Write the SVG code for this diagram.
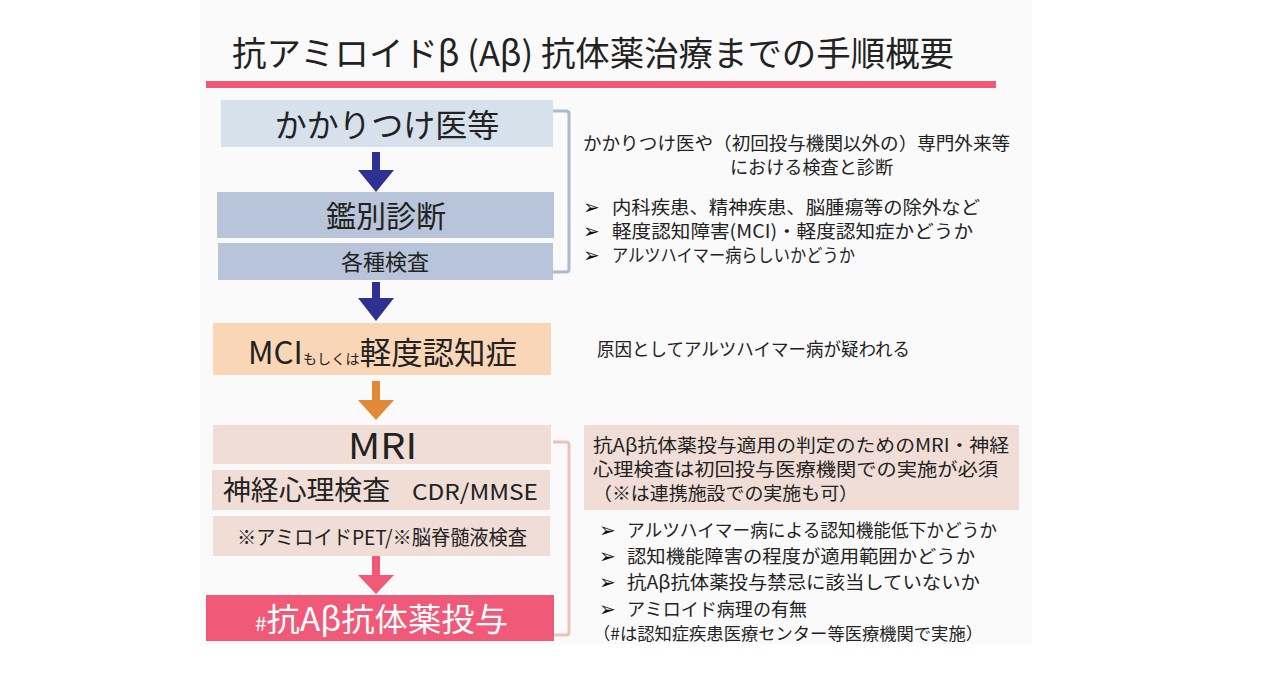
<svg xmlns="http://www.w3.org/2000/svg" width="1264" height="686" viewBox="0 0 1264 686">
<style>
text{font-family:"Noto Sans CJK JP","Noto Sans",sans-serif;fill:#222;}
.c{text-anchor:middle;}
.t18{font-size:18px;}
.bu{font-family:"DejaVu Sans",sans-serif;font-size:20px;fill:#111;}
.bl{fill:#D6E1EC;}
.bd{fill:#B8C4D9;}
.pk{fill:#F0DDD6;}
.br1{fill:none;stroke:#A9BAD5;stroke-width:3;}
.br2{fill:none;stroke:#E9C3B3;stroke-width:3;}
</style>
<defs>
<path id="arrow" d="M-4,0 H4 V18 H18 L0,40 L-18,18 H-4 Z"/>
</defs>
<rect width="1264" height="686" fill="#ffffff"/>
<rect x="200" y="0" width="832" height="644" fill="#FAFAFA"/>
<g id="title">
<text x="232" y="66" font-size="34" textLength="722" lengthAdjust="spacingAndGlyphs">抗アミロイドβ (Aβ) 抗体薬治療までの手順概要</text>
<rect x="206" y="81" width="790" height="7" fill="#F05A78"/>
</g>
<g id="connectors">
<use href="#arrow" x="376" y="152" fill="#2E3192"/>
<path d="M372,282 H380 V298 H394 L376,321 L358,298 H372 Z" fill="#2E3192"/>
<path d="M372,381 H380 V400 H394 L376,420 L358,400 H372 Z" fill="#E08A38"/>
<path d="M372,556 H380 V575 H394 L376,594 L358,575 H372 Z" fill="#F05A78"/>
<path class="br1" d="M553,111 H566 Q569,111 569,114 V269 Q569,272 566,272 H553"/>
<path class="br2" d="M553,442 H566 Q569,442 569,445 V632 Q569,635 566,635 H553"/>
</g>
<g id="n1"><rect class="bl" x="221" y="100" width="332" height="47"/><text class="c" x="387" y="137" font-size="32">かかりつけ医等</text></g>
<g id="n2"><rect class="bd" x="217" y="192" width="337" height="46"/><text class="c" x="386" y="227" font-size="30">鑑別診断</text></g>
<g id="n3"><rect class="bd" x="218" y="243" width="335" height="37"/><text class="c" x="385" y="270" font-size="22">各種検査</text></g>
<g id="n4"><rect x="213" y="323" width="338" height="52" fill="#F9D6B6"/><text x="248" y="364" textLength="269" lengthAdjust="spacingAndGlyphs"><tspan font-size="31">MCI</tspan><tspan font-size="14">もしくは</tspan><tspan font-size="31">軽度認知症</tspan></text></g>
<g id="n5"><rect class="pk" x="213" y="425" width="338" height="39"/><text x="348" y="459" font-size="36" textLength="69" lengthAdjust="spacingAndGlyphs">MRI</text></g>
<g id="n6"><rect class="pk" x="212" y="470" width="338" height="40"/><text x="223" y="500" font-size="27" textLength="167" lengthAdjust="spacingAndGlyphs">神経心理検査</text><text x="412" y="500" font-size="22" textLength="126" lengthAdjust="spacingAndGlyphs">CDR/MMSE</text></g>
<g id="n7"><rect class="pk" x="213" y="516" width="337" height="40"/><text x="237" y="545" font-size="20" textLength="290" lengthAdjust="spacingAndGlyphs">※アミロイドPET/※脳脊髄液検査</text></g>
<g id="n8"><rect x="206" y="595" width="348" height="46" fill="#F05A78"/><text x="255" y="631" font-size="32" textLength="253" lengthAdjust="spacingAndGlyphs" style="fill:#fff"><tspan font-size="20">#</tspan>抗Aβ抗体薬投与</text></g>
<g id="note1">
<text class="t18" x="583" y="150" textLength="427" lengthAdjust="spacingAndGlyphs">かかりつけ医や（初回投与機関以外の）専門外来等</text>
<text class="t18" x="730" y="174" textLength="163" lengthAdjust="spacingAndGlyphs">における検査と診断</text>
<text class="bu" x="583" y="214">➢</text><text class="t18" x="612" y="214" textLength="368" lengthAdjust="spacingAndGlyphs">内科疾患、精神疾患、脳腫瘍等の除外など</text>
<text class="bu" x="583" y="238">➢</text><text class="t18" x="612" y="238" textLength="361" lengthAdjust="spacingAndGlyphs">軽度認知障害(MCI)・軽度認知症かどうか</text>
<text class="bu" x="583" y="262">➢</text><text class="t18" x="612" y="262" textLength="243" lengthAdjust="spacingAndGlyphs">アルツハイマー病らしいかどうか</text>
</g>
<g id="note2"><text class="t18" x="597" y="356" textLength="313" lengthAdjust="spacingAndGlyphs">原因としてアルツハイマー病が疑われる</text></g>
<g id="note3">
<rect class="pk" x="584" y="425" width="435" height="85"/>
<text class="t18" x="593" y="452" textLength="416" lengthAdjust="spacingAndGlyphs">抗Aβ抗体薬投与適用の判定のためのMRI・神経</text>
<text class="t18" x="593" y="476" textLength="405" lengthAdjust="spacingAndGlyphs">心理検査は初回投与医療機関での実施が必須</text>
<text class="t18" x="593" y="500" textLength="265" lengthAdjust="spacingAndGlyphs">（※は連携施設での実施も可）</text>
<text class="bu" x="599" y="537">➢</text><text class="t18" x="627" y="537" textLength="370" lengthAdjust="spacingAndGlyphs">アルツハイマー病による認知機能低下かどうか</text>
<text class="bu" x="599" y="563">➢</text><text class="t18" x="627" y="563" textLength="348" lengthAdjust="spacingAndGlyphs">認知機能障害の程度が適用範囲かどうか</text>
<text class="bu" x="599" y="589">➢</text><text class="t18" x="627" y="589" textLength="353" lengthAdjust="spacingAndGlyphs">抗Aβ抗体薬投与禁忌に該当していないか</text>
<text class="bu" x="599" y="616">➢</text><text class="t18" x="627" y="616" textLength="180" lengthAdjust="spacingAndGlyphs">アミロイド病理の有無</text>
<text x="593" y="640" font-size="17" textLength="390" lengthAdjust="spacingAndGlyphs">（#は認知症疾患医療センター等医療機関で実施）</text>
</g>
</svg>
